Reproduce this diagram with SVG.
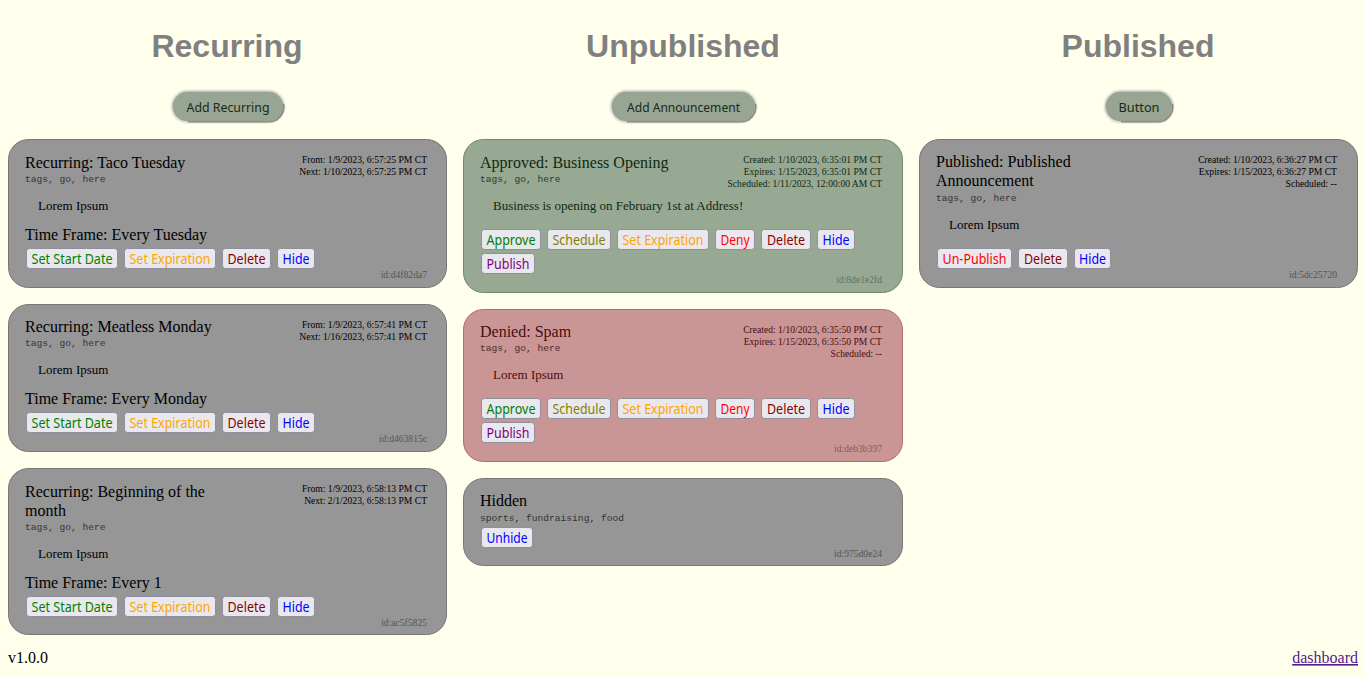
<svg xmlns="http://www.w3.org/2000/svg" width="1363" height="677" viewBox="0 0 1363 677">
<style>
.bg{fill:#ffffeb}
.h{font-family:"Liberation Sans",Arial,sans-serif;font-weight:bold;font-size:32px;fill:#808080;text-anchor:middle}
.tb{fill:#97a592;stroke:#e2e2dc;stroke-width:2}
.tbs{fill:none;stroke:#8a8a86;stroke-width:1.5}
.tbt{font-family:"Noto Sans",sans-serif;font-size:13px;fill:#1a2a1a;text-anchor:middle}
.card{fill:#969696;stroke:#767676;stroke-width:1}
.cardA{fill:#97a893;stroke:#6e8c69;stroke-width:1}
.cardD{fill:#c99595;stroke:#b06e6e;stroke-width:1}
.title{font-family:"Liberation Serif",serif;font-size:16px;fill:#000}
.tags{font-family:"Liberation Mono",monospace;font-size:9.6px;fill:#333}
.date{font-family:"Liberation Serif",serif;font-size:9.6px;fill:#000;text-anchor:end}
.body{font-family:"Liberation Serif",serif;font-size:13px;fill:#000}
.id{font-family:"Liberation Serif",serif;font-size:9.6px;fill:#555;text-anchor:end}
.A .title,.A .date,.A .body{fill:#102a10}
.A .tags{fill:#2a3a2a}
.A .id{fill:#5e755e}
.D .title,.D .date,.D .body{fill:#4a0e0e}
.D .tags{fill:#4a2a2a}
.D .id{fill:#8e5858}
.btn{fill:#e9e8ee;stroke:#8f8f9d;stroke-width:1}
.bt{font-family:"Noto Sans",sans-serif;font-size:13.5px;text-anchor:middle}
.green{fill:#008000}.orange{fill:#ffa500}.dred{fill:#8b0000}.blue{fill:#0000ff}.olive{fill:#808000}.red{fill:#ff0000}.purple{fill:#800080}
.foot{font-family:"Liberation Serif",serif;font-size:16px;fill:#000}
.link{font-family:"Liberation Serif",serif;font-size:16px;fill:#551a8b;text-anchor:end;text-decoration:underline}
</style>
<rect class="bg" x="0" y="0" width="1363" height="677"/>

<g id="headings">
<text class="h" x="227" y="57">Recurring</text>
<text class="h" x="683" y="57">Unpublished</text>
<text class="h" x="1138" y="57">Published</text>
</g>

<g id="add-recurring">
<rect class="tb" x="171.5" y="90.5" width="113" height="32" rx="16"/>
<path class="tbs" d="M283.5,104 A15,15 0 0 1 268,121.8 L188,121.8"/>
<text class="tbt" x="228" y="111.5" textLength="83" lengthAdjust="spacingAndGlyphs">Add Recurring</text>
</g>
<g id="add-announcement">
<rect class="tb" x="610.5" y="90.5" width="146" height="32" rx="16"/>
<path class="tbs" d="M755.5,104 A15,15 0 0 1 740,121.8 L627,121.8"/>
<text class="tbt" x="683.5" y="111.5" textLength="113" lengthAdjust="spacingAndGlyphs">Add Announcement</text>
</g>
<g id="button-published">
<rect class="tb" x="1104.5" y="90.5" width="69" height="32" rx="16"/>
<path class="tbs" d="M1172.5,104 A15,15 0 0 1 1157,121.8 L1121,121.8"/>
<text class="tbt" x="1139" y="111.5" textLength="41" lengthAdjust="spacingAndGlyphs">Button</text>
</g>

<!-- Recurring card 1 -->
<g id="card-taco-tuesday">
<rect class="card" x="8.5" y="139.5" width="438" height="148" rx="20"/>
<text class="title" x="25" y="168">Recurring: Taco Tuesday</text>
<text class="tags" x="25" y="182">tags, go, here</text>
<text class="date" x="427" y="163">From: 1/9/2023, 6:57:25 PM CT</text>
<text class="date" x="427" y="175">Next: 1/10/2023, 6:57:25 PM CT</text>
<text class="body" x="38" y="210">Lorem Ipsum</text>
<text class="title" x="25" y="240">Time Frame: Every Tuesday</text>
<rect class="btn" x="26.5" y="248.5" width="91" height="20" rx="3"/><text class="bt green" x="72" y="263.5" textLength="81" lengthAdjust="spacingAndGlyphs">Set Start Date</text>
<rect class="btn" x="124.5" y="248.5" width="91" height="20" rx="3"/><text class="bt orange" x="170" y="263.5" textLength="81" lengthAdjust="spacingAndGlyphs">Set Expiration</text>
<rect class="btn" x="222.5" y="248.5" width="48" height="20" rx="3"/><text class="bt dred" x="246.5" y="263.5" textLength="38" lengthAdjust="spacingAndGlyphs">Delete</text>
<rect class="btn" x="277.5" y="248.5" width="37" height="20" rx="3"/><text class="bt blue" x="296" y="263.5" textLength="27" lengthAdjust="spacingAndGlyphs">Hide</text>
<text class="id" x="427" y="278">id:d4f82da7</text>
</g>

<!-- Recurring card 2 -->
<g id="card-meatless-monday">
<rect class="card" x="8.5" y="304.5" width="438" height="147" rx="20"/>
<text class="title" x="25" y="332">Recurring: Meatless Monday</text>
<text class="tags" x="25" y="346">tags, go, here</text>
<text class="date" x="427" y="328">From: 1/9/2023, 6:57:41 PM CT</text>
<text class="date" x="427" y="340">Next: 1/16/2023, 6:57:41 PM CT</text>
<text class="body" x="38" y="374">Lorem Ipsum</text>
<text class="title" x="25" y="404">Time Frame: Every Monday</text>
<rect class="btn" x="26.5" y="412.5" width="91" height="20" rx="3"/><text class="bt green" x="72" y="427.5" textLength="81" lengthAdjust="spacingAndGlyphs">Set Start Date</text>
<rect class="btn" x="124.5" y="412.5" width="91" height="20" rx="3"/><text class="bt orange" x="170" y="427.5" textLength="81" lengthAdjust="spacingAndGlyphs">Set Expiration</text>
<rect class="btn" x="222.5" y="412.5" width="48" height="20" rx="3"/><text class="bt dred" x="246.5" y="427.5" textLength="38" lengthAdjust="spacingAndGlyphs">Delete</text>
<rect class="btn" x="277.5" y="412.5" width="37" height="20" rx="3"/><text class="bt blue" x="296" y="427.5" textLength="27" lengthAdjust="spacingAndGlyphs">Hide</text>
<text class="id" x="427" y="442">id:d463815c</text>
</g>

<!-- Recurring card 3 -->
<g id="card-beginning-of-month">
<rect class="card" x="8.5" y="468.5" width="438" height="166" rx="20"/>
<text class="title" x="25" y="497">Recurring: Beginning of the</text>
<text class="title" x="25" y="516">month</text>
<text class="tags" x="25" y="530">tags, go, here</text>
<text class="date" x="427" y="492">From: 1/9/2023, 6:58:13 PM CT</text>
<text class="date" x="427" y="504">Next: 2/1/2023, 6:58:13 PM CT</text>
<text class="body" x="38" y="558">Lorem Ipsum</text>
<text class="title" x="25" y="588">Time Frame: Every 1</text>
<rect class="btn" x="26.5" y="596.5" width="91" height="20" rx="3"/><text class="bt green" x="72" y="611.5" textLength="81" lengthAdjust="spacingAndGlyphs">Set Start Date</text>
<rect class="btn" x="124.5" y="596.5" width="91" height="20" rx="3"/><text class="bt orange" x="170" y="611.5" textLength="81" lengthAdjust="spacingAndGlyphs">Set Expiration</text>
<rect class="btn" x="222.5" y="596.5" width="48" height="20" rx="3"/><text class="bt dred" x="246.5" y="611.5" textLength="38" lengthAdjust="spacingAndGlyphs">Delete</text>
<rect class="btn" x="277.5" y="596.5" width="37" height="20" rx="3"/><text class="bt blue" x="296" y="611.5" textLength="27" lengthAdjust="spacingAndGlyphs">Hide</text>
<text class="id" x="427" y="626">id:ac5f5825</text>
</g>

<!-- Approved card -->
<g id="card-approved" class="A">
<rect class="cardA" x="463.5" y="139.5" width="439" height="153" rx="20"/>
<text class="title" x="480" y="168">Approved: Business Opening</text>
<text class="tags" x="480" y="182">tags, go, here</text>
<text class="date" x="882" y="163">Created: 1/10/2023, 6:35:01 PM CT</text>
<text class="date" x="882" y="175">Expires: 1/15/2023, 6:35:01 PM CT</text>
<text class="date" x="882" y="187">Scheduled: 1/11/2023, 12:00:00 AM CT</text>
<text class="body" x="493" y="210">Business is opening on February 1st at Address!</text>
<rect class="btn" x="481.5" y="229.5" width="59" height="20" rx="3"/><text class="bt green" x="511" y="244.5" textLength="49" lengthAdjust="spacingAndGlyphs">Approve</text>
<rect class="btn" x="547.5" y="229.5" width="63" height="20" rx="3"/><text class="bt olive" x="579" y="244.5" textLength="53" lengthAdjust="spacingAndGlyphs">Schedule</text>
<rect class="btn" x="617.5" y="229.5" width="91" height="20" rx="3"/><text class="bt orange" x="663" y="244.5" textLength="81" lengthAdjust="spacingAndGlyphs">Set Expiration</text>
<rect class="btn" x="715.5" y="229.5" width="39" height="20" rx="3"/><text class="bt red" x="735" y="244.5" textLength="29" lengthAdjust="spacingAndGlyphs">Deny</text>
<rect class="btn" x="761.5" y="229.5" width="49" height="20" rx="3"/><text class="bt dred" x="786" y="244.5" textLength="38" lengthAdjust="spacingAndGlyphs">Delete</text>
<rect class="btn" x="817.5" y="229.5" width="37" height="20" rx="3"/><text class="bt blue" x="836" y="244.5" textLength="27" lengthAdjust="spacingAndGlyphs">Hide</text>
<rect class="btn" x="481.5" y="253.5" width="53" height="20" rx="3"/><text class="bt purple" x="508" y="268.5" textLength="43" lengthAdjust="spacingAndGlyphs">Publish</text>
<text class="id" x="882" y="283">id:8de1e2fd</text>
</g>

<!-- Denied card -->
<g id="card-denied" class="D">
<rect class="cardD" x="463.5" y="309.5" width="439" height="152" rx="20"/>
<text class="title" x="480" y="337">Denied: Spam</text>
<text class="tags" x="480" y="351">tags, go, here</text>
<text class="date" x="882" y="333">Created: 1/10/2023, 6:35:50 PM CT</text>
<text class="date" x="882" y="345">Expires: 1/15/2023, 6:35:50 PM CT</text>
<text class="date" x="882" y="357">Scheduled: --</text>
<text class="body" x="493" y="379">Lorem Ipsum</text>
<rect class="btn" x="481.5" y="398.5" width="59" height="20" rx="3"/><text class="bt green" x="511" y="413.5" textLength="49" lengthAdjust="spacingAndGlyphs">Approve</text>
<rect class="btn" x="547.5" y="398.5" width="63" height="20" rx="3"/><text class="bt olive" x="579" y="413.5" textLength="53" lengthAdjust="spacingAndGlyphs">Schedule</text>
<rect class="btn" x="617.5" y="398.5" width="91" height="20" rx="3"/><text class="bt orange" x="663" y="413.5" textLength="81" lengthAdjust="spacingAndGlyphs">Set Expiration</text>
<rect class="btn" x="715.5" y="398.5" width="39" height="20" rx="3"/><text class="bt red" x="735" y="413.5" textLength="29" lengthAdjust="spacingAndGlyphs">Deny</text>
<rect class="btn" x="761.5" y="398.5" width="49" height="20" rx="3"/><text class="bt dred" x="786" y="413.5" textLength="38" lengthAdjust="spacingAndGlyphs">Delete</text>
<rect class="btn" x="817.5" y="398.5" width="37" height="20" rx="3"/><text class="bt blue" x="836" y="413.5" textLength="27" lengthAdjust="spacingAndGlyphs">Hide</text>
<rect class="btn" x="481.5" y="422.5" width="53" height="20" rx="3"/><text class="bt purple" x="508" y="437.5" textLength="43" lengthAdjust="spacingAndGlyphs">Publish</text>
<text class="id" x="882" y="452">id:deb3b397</text>
</g>

<!-- Hidden card -->
<g id="card-hidden">
<rect class="card" x="463.5" y="478.5" width="439" height="87" rx="20"/>
<text class="title" x="480" y="506">Hidden</text>
<text class="tags" x="480" y="521">sports, fundraising, food</text>
<rect class="btn" x="481.5" y="527.5" width="51" height="20" rx="3"/><text class="bt blue" x="507" y="542.5" textLength="41" lengthAdjust="spacingAndGlyphs">Unhide</text>
<text class="id" x="882" y="557">id:975d0e24</text>
</g>

<!-- Published card -->
<g id="card-published">
<rect class="card" x="919.5" y="139.5" width="438" height="148" rx="20"/>
<text class="title" x="936" y="167">Published: Published</text>
<text class="title" x="936" y="186">Announcement</text>
<text class="tags" x="936" y="201">tags, go, here</text>
<text class="date" x="1337" y="163">Created: 1/10/2023, 6:36:27 PM CT</text>
<text class="date" x="1337" y="175">Expires: 1/15/2023, 6:36:27 PM CT</text>
<text class="date" x="1337" y="187">Scheduled: --</text>
<text class="body" x="949" y="229">Lorem Ipsum</text>
<rect class="btn" x="937.5" y="248.5" width="74" height="20" rx="3"/><text class="bt red" x="974.5" y="263.5" textLength="64" lengthAdjust="spacingAndGlyphs">Un-Publish</text>
<rect class="btn" x="1018.5" y="248.5" width="49" height="20" rx="3"/><text class="bt dred" x="1043" y="263.5" textLength="38" lengthAdjust="spacingAndGlyphs">Delete</text>
<rect class="btn" x="1074.5" y="248.5" width="36" height="20" rx="3"/><text class="bt blue" x="1092.5" y="263.5" textLength="27" lengthAdjust="spacingAndGlyphs">Hide</text>
<text class="id" x="1337" y="278">id:5dc25720</text>
</g>

<g id="footer">
<text class="foot" x="8" y="663">v1.0.0</text>
<text class="link" x="1358" y="663">dashboard</text>
</g>
<g id="connectors"/>
</svg>
